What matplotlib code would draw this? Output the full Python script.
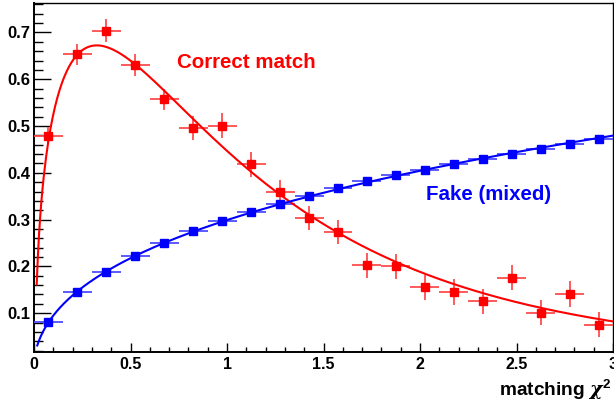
import numpy as np
import matplotlib
matplotlib.use("Agg")
import matplotlib.pyplot as plt
from matplotlib.ticker import MultipleLocator

# ---- data ----
bin_centers = [0.075, 0.225, 0.375, 0.525, 0.675, 0.825, 0.975, 1.125, 1.275, 1.425,
               1.575, 1.725, 1.875, 2.025, 2.175, 2.325, 2.475, 2.625, 2.775, 2.925]
bin_half_width = 0.075

correct_y = [0.479, 0.653, 0.704, 0.630, 0.557, 0.496, 0.501, 0.418, 0.358, 0.303,
             0.273, 0.202, 0.200, 0.155, 0.145, 0.125, 0.176, 0.101, 0.141, 0.075]
correct_err = [0.018, 0.023, 0.025, 0.024, 0.023, 0.025, 0.026, 0.026, 0.027, 0.026,
               0.026, 0.026, 0.027, 0.027, 0.027, 0.027, 0.027, 0.027, 0.028, 0.027]

fake_y = [0.081, 0.146, 0.188, 0.223, 0.250, 0.275, 0.296, 0.316, 0.334, 0.350,
          0.367, 0.382, 0.395, 0.407, 0.418, 0.430, 0.441, 0.451, 0.462, 0.473]
fake_err = [0.006] * 20

# fit curves
correct_fit_x = [0.014, 0.022, 0.031, 0.045, 0.078, 0.152, 0.229, 0.333, 0.525, 0.704,
                 0.859, 1.127, 1.273, 1.48, 1.877, 2.329, 2.631, 2.98]
correct_fit_y = [0.164, 0.228, 0.300, 0.385, 0.478, 0.585, 0.653, 0.678, 0.630, 0.547,
                 0.510, 0.419, 0.360, 0.293, 0.204, 0.139, 0.1085, 0.087]
fake_fit_x = [0.017, 0.075, 0.225, 0.375, 0.525, 0.825, 1.125, 1.425, 1.875, 2.325, 2.925]
fake_fit_y = [0.031, 0.081, 0.146, 0.188, 0.223, 0.275, 0.316, 0.350, 0.395, 0.430, 0.473]

x_ticks = [0, 0.5, 1, 1.5, 2, 2.5, 3]
x_ticklabels = ["0", "0.5", "1", "1.5", "2", "2.5", "3"]
y_ticks = [0.1, 0.2, 0.3, 0.4, 0.5, 0.6, 0.7]
y_ticklabels = ["0.1", "0.2", "0.3", "0.4", "0.5", "0.6", "0.7"]

# ---- figure ----
plt.rcParams['font.family'] = ['Liberation Sans', 'DejaVu Sans']
plt.rcParams['mathtext.fontset'] = 'custom'
plt.rcParams['mathtext.it'] = 'DejaVu Serif:italic:bold'
plt.rcParams['mathtext.rm'] = 'Liberation Sans:bold'
fig = plt.figure(figsize=(6.14, 4.05), dpi=100)
ax = fig.add_axes([34/614, 1-352/405, 579/614, 349/405])

RED = '#ff0000'
BLUE = '#0000ff'

def smooth_curve(xr, yr, deg, x0, x1):
    c = np.polyfit(np.log(xr), np.log(yr), deg)
    xs = np.linspace(x0, x1, 500)
    return xs, np.exp(np.polyval(c, np.log(xs)))

ax.errorbar(bin_centers, correct_y, xerr=bin_half_width, yerr=correct_err, fmt='s',
            color=RED, ecolor=(1, 0.3, 0.3), elinewidth=1.3, markersize=6, capsize=0,
            zorder=3)
ax.errorbar(bin_centers, fake_y, xerr=bin_half_width, yerr=fake_err, fmt='s',
            color=BLUE, ecolor=(0.3, 0.3, 1), elinewidth=1.3, markersize=6, capsize=0,
            zorder=3)

xs, ys = smooth_curve(correct_fit_x, correct_fit_y, 5, 0.014, 3.0)
ax.plot(xs, ys, color=RED, lw=1.5, zorder=4)
xs, ys = smooth_curve(fake_fit_x, fake_fit_y, 3, 0.017, 3.0)
ax.plot(xs, ys, color=BLUE, lw=1.5, zorder=4)

ax.set_xlim(0, 3)
ax.set_ylim(0.017, 0.763)
ax.set_xticks(x_ticks)
ax.set_xticklabels(x_ticklabels)
ax.set_yticks(y_ticks)
ax.set_yticklabels(y_ticklabels)
ax.xaxis.set_minor_locator(MultipleLocator(0.1))
ax.yaxis.set_minor_locator(MultipleLocator(0.02))

ax.tick_params(which='both', direction='in', top=False, right=False, width=1.0)
ax.tick_params(axis='y', which='major', length=12.2, pad=2.5, labelsize=12)
ax.tick_params(axis='y', which='minor', length=6.3)
ax.tick_params(axis='x', which='major', length=6.7, pad=3.5, labelsize=11.5)
ax.tick_params(axis='x', which='minor', length=3.3)
for lab in ax.get_xticklabels() + ax.get_yticklabels():
    lab.set_fontweight('bold')

for s in ['left', 'bottom']:
    ax.spines[s].set_linewidth(1.4)
for s in ['top', 'right']:
    ax.spines[s].set_linewidth(1.0)

ax.text(0.741, 0.623, "Correct match", color=RED, fontsize=14.8, fontweight='bold',
        ha='left', va='baseline')
ax.text(2.031, 0.3426, "Fake (mixed)", color=BLUE, fontsize=14.8, fontweight='bold',
        ha='left', va='baseline')

fig.text(0.997, 0.022, r"matching $\chi^{\mathrm{2}}$", fontsize=13.8, fontweight='bold',
         ha='right', va='baseline')

fig.savefig("out.png", dpi=100)
